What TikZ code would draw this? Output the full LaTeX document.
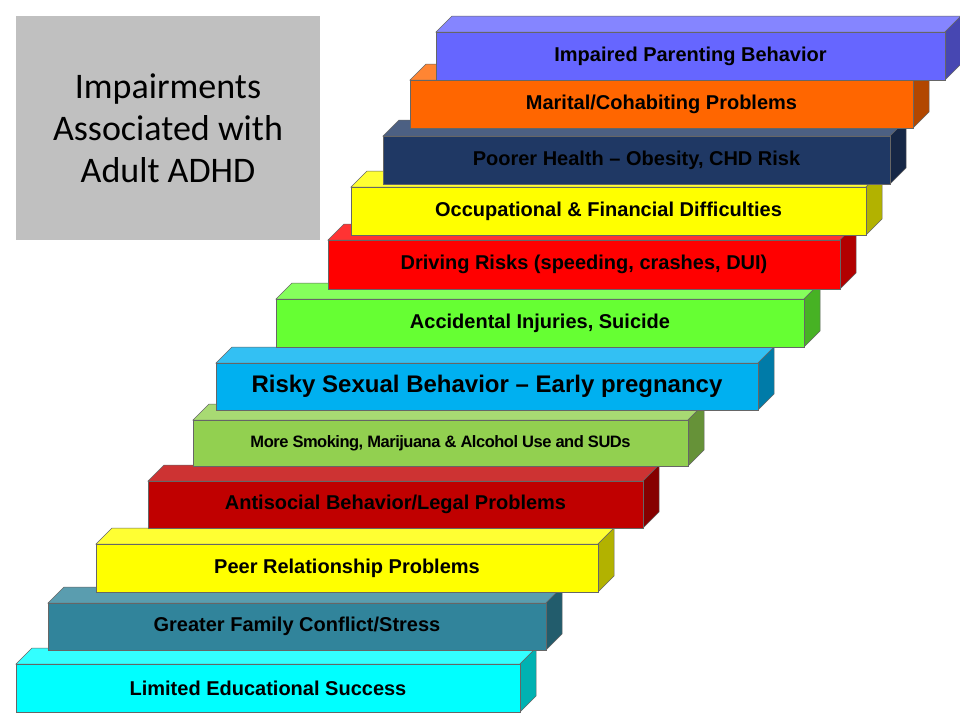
\documentclass[tikz,border=0pt]{standalone}
\usepackage{fontspec}
\setmainfont{Liberation Sans}
\newfontfamily\titlefont{Carlito}
\definecolor{cA}{HTML}{00FFFF}\definecolor{cB}{HTML}{31849B}\definecolor{cC}{HTML}{FFFF00}
\definecolor{cD}{HTML}{C00000}\definecolor{cE}{HTML}{92D050}\definecolor{cF}{HTML}{00B0F0}
\definecolor{cG}{HTML}{66FF33}\definecolor{cH}{HTML}{FF0000}\definecolor{cI}{HTML}{FFFF00}
\definecolor{cJ}{HTML}{1F3864}\definecolor{cK}{HTML}{FF6600}\definecolor{cL}{HTML}{6666FF}
\definecolor{tgray}{HTML}{C0C0C0}
\tikzset{face/.style={draw=black!60,line width=0.5pt},
 lbl/.style={font=\bfseries\fontsize{20}{22}\selectfont,text=black}}
\newcommand\mystep[7]{% name,x1,y1,x2,y2,color,text
 \fill[#6!80!white,face] (#2,#3) -- (#2+16,#3-16) -- (#4+16,#3-16) -- (#4,#3) -- cycle;
 \fill[#6!70!black,face] (#4,#3) -- (#4+16,#3-16) -- (#4+16,#5-16) -- (#4,#5) -- cycle;
 \filldraw[#6,face] (#2,#3) rectangle (#4,#5);
 \node[lbl] (#1) at ({(#2+#4)/2},{(#3+#5)/2}) {#7};}
\begin{document}
\begin{tikzpicture}[x=1pt,y=-1pt]
\useasboundingbox (0,0) rectangle (960,720);
\fill[white] (0,0) rectangle (960,720);
\fill[tgray] (16,16) rectangle (320,240);
\node[font=\titlefont\fontsize{36}{42}\selectfont,align=center] (title) at (168,128) {Impairments\\Associated with\\Adult ADHD};
\mystep{s1}{16}{664}{520}{712}{cA}{Limited Educational Success}
\mystep{s2}{48}{603}{546}{650}{cB}{Greater Family Conflict/Stress}
\mystep{s3}{96}{544}{598}{592}{cC}{Peer Relationship Problems}
\mystep{s4}{148}{481}{643}{528}{cD}{Antisocial Behavior/Legal Problems}
\mystep{s5}{193}{420}{688}{466}{cE}{\fontsize{16.5}{18}\selectfont\addfontfeature{LetterSpace=-3}More Smoking, Marijuana \& Alcohol Use and SUDs}
\mystep{s6}{216}{363}{758}{410}{cF}{\fontsize{24}{26}\selectfont Risky Sexual Behavior -- Early pregnancy}
\mystep{s7}{276}{299}{804}{347}{cG}{Accidental Injuries, Suicide}
\mystep{s8}{328}{240}{840}{289}{cH}{Driving Risks (speeding, crashes, DUI)}
\mystep{s9}{351}{187}{866}{235}{cI}{Occupational \& Financial Difficulties}
\mystep{s10}{383}{136}{890}{184}{cJ}{Poorer Health -- Obesity, CHD Risk}
\mystep{s11}{410}{80}{913}{128}{cK}{Marital/Cohabiting Problems}
\mystep{s12}{436}{32}{945}{80}{cL}{Impaired Parenting Behavior}
\end{tikzpicture}
\end{document}
